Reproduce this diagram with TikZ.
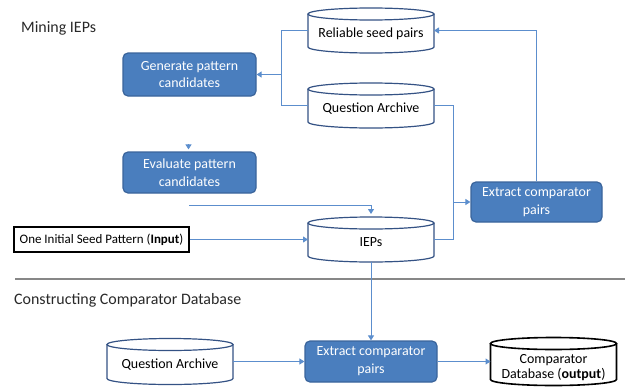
\documentclass[tikz,border=0pt]{standalone}
\usepackage{fontspec}
\setmainfont{Carlito}
\usetikzlibrary{arrows.meta,calc}
\definecolor{boxfill}{RGB}{74,126,190}
\definecolor{boxdraw}{RGB}{58,100,155}
\definecolor{conn}{RGB}{92,142,205}
\definecolor{cylblue}{RGB}{52,82,132}
\definecolor{sepgray}{RGB}{135,135,135}
\definecolor{headtext}{RGB}{40,40,40}
\newcommand\cylout[2]{%
  \draw[#2] ($(#1.north west)+(0,-6)$) -- ($(#1.south west)+(0,6)$)
     arc[start angle=180,end angle=360,x radius=63bp,y radius=6bp]
     -- ($(#1.north east)+(0,-6)$);
  \draw[#2] ($(#1.north)+(0,-6)$) ellipse[x radius=63bp, y radius=6bp];}
\tikzset{
  bluebox/.style={rectangle, rounded corners=5bp, fill=boxfill, draw=boxdraw, line width=1.2bp,
    text=white, align=center, inner sep=0pt, font=\fontsize{14}{18}\selectfont},
  db/.style={rectangle, minimum width=126bp, minimum height=45bp, inner sep=0pt, outer sep=0pt,
    text height=16bp, text depth=2bp, font=\fontsize{14}{17}\selectfont},
  cylline/.style={draw=cylblue, line width=1.2bp},
  cylblack/.style={draw=black, line width=1.6bp},
  conline/.style={draw=conn, line width=1bp},
  arr/.style={conline, -{Triangle[length=5bp,width=6bp]}},
  heading/.style={anchor=west, inner sep=0pt, text=headtext, font=\fontsize{16}{19}\selectfont},
}
\begin{document}
\begin{tikzpicture}[x=1bp,y=1bp]
\useasboundingbox (0,0) rectangle (628,387);
% headings
\node[heading] (h1) at (21,359) {Mining IEPs};
\node[heading] (h2) at (14,87) {Constructing Comparator Database};
% separator
\coordinate (s1) at (15,108);
\coordinate (s2) at (625,108);
\draw[sepgray, line width=1.6bp] (s1) -- (s2);
% cylinders
\node[db] (rsp) at (371,356.5) {Reliable seed pairs};
\node[db] (qa1) at (371,281.5) {Question Archive};
\node[db] (ieps) at (371,147.5) {IEPs};
\node[db, minimum height=46bp] (qa2) at (170,25.5) {Question Archive};
\node[db, minimum height=48bp, align=center, text height=34bp, text depth=0bp,
      font=\fontsize{14}{15.5}\selectfont] (cdb) at (553.5,25.5) {Comparator\\Database (\textbf{output})};
\cylout{rsp}{cylline}
\cylout{qa1}{cylline}
\cylout{ieps}{cylline}
\cylout{qa2}{cylline}
\cylout{cdb}{cylblack}
% blue boxes
\node[bluebox, minimum width=133bp, minimum height=43bp] (gen) at (189.5,312.5) {Generate pattern\\candidates};
\node[bluebox, minimum width=133bp, minimum height=41bp] (eval) at (189.5,214.5) {Evaluate pattern\\candidates};
\node[bluebox, minimum width=131bp, minimum height=40bp] (ext1) at (536.5,185) {Extract comparator\\pairs};
\node[bluebox, minimum width=132bp, minimum height=41bp] (ext2) at (371,25.5) {Extract comparator\\pairs};
% input box
\node[rectangle, draw=black, line width=1.6bp, minimum width=175bp, minimum height=25bp, inner sep=0pt,
      font=\fontsize{13}{15}\selectfont] (inp) at (101.5,147.5) {One Initial Seed Pattern (\textbf{Input})};
% junctions
\coordinate (j1) at (281,312.5);
\coordinate (j2) at (453,185);
\coordinate (ev0) at (188.5,243);
\coordinate (ev1) at (189,182);
% connectors
\draw[arr] (rsp.west) -| (j1) -- (gen.east);
\draw[conline] (qa1.west) -| (j1);
\draw[arr, shorten >=2bp] (ev0) -- (eval.north -| ev0);
\draw[arr, shorten >=3bp] (ev1) -| (ieps.north);
\draw[arr] (inp.east) -- (ieps.west);
\draw[arr] (ieps.east) -| (j2) -- (ext1.west);
\draw[conline] (qa1.east) -| (j2);
\draw[arr] (ext1.north) |- (rsp.east);
\draw[arr] (ieps.south) -- (ext2.north);
\draw[arr] (qa2.east) -- (ext2.west);
\draw[arr] (ext2.east) -- (cdb.west);
\end{tikzpicture}
\end{document}
